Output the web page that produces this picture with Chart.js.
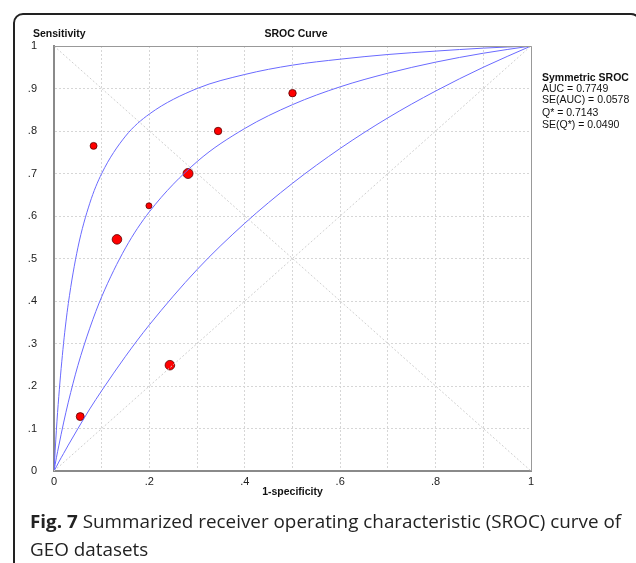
<!DOCTYPE html>
<html>
<head>
<meta charset="utf-8">
<script src="https://cdn.jsdelivr.net/npm/chart.js@4.4.1/dist/chart.umd.min.js"></script>
<style>
  html, body { margin: 0; padding: 0; background: #fff; }
  #wrap { position: relative; width: 636px; height: 563px; overflow: hidden; }
  #frame {
    position: absolute; left: 13px; top: 13px; width: 624px; height: 600px;
    border: 2px solid #222; border-radius: 10px;
  }
  #chart { position: absolute; left: 0; top: 0; }
  #caption {
    position: absolute; left: 30px; top: 507px; width: 600px; white-space: nowrap;
    font-family: "Open Sans", sans-serif; font-size: 17.5px; line-height: 28.4px; color: #222;
    transform: scaleX(1.077); transform-origin: 0 0;
  }
  #caption b { font-weight: 700; }
</style>
</head>
<body>
<div id="wrap">
  <div id="frame"></div>
  <canvas id="chart" width="636" height="563"></canvas>
  <div id="caption"><b>Fig. 7</b> Summarized receiver operating characteristic (SROC) curve of<br>GEO datasets</div>
</div>
<script>
// --- data ---
const curveFpr = [0, 0.005, 0.01, 0.02, 0.03, 0.05, 0.075, 0.1, 0.15, 0.2, 0.3, 0.4, 0.5, 0.6, 0.7, 0.8, 0.9, 1];
const upperTpr = [0, 0.096, 0.175, 0.30, 0.394, 0.525, 0.63, 0.70, 0.788, 0.84, 0.90, 0.933, 0.955, 0.969, 0.98, 0.988, 0.995, 1];
const srocTpr  = [0, 0.031, 0.059, 0.113, 0.162, 0.248, 0.336, 0.41, 0.525, 0.61, 0.728, 0.806, 0.862, 0.904, 0.936, 0.962, 0.983, 1];
const lowerTpr = [0, 0.010, 0.021, 0.041, 0.061, 0.0995, 0.146, 0.189, 0.270, 0.344, 0.474, 0.583, 0.677, 0.759, 0.831, 0.894, 0.950, 1];

const studyFpr = [0.083, 0.344, 0.500, 0.281, 0.199, 0.132, 0.243, 0.055];
const studyTpr = [0.765, 0.800, 0.889, 0.700, 0.624, 0.545, 0.249, 0.128];
const studyWeight = [12, 14, 14, 25, 9, 23, 23, 16];

const diagA = [[0, 1], [1, 0]];
const diagB = [[0, 0], [1, 1]];

const statLines = ['AUC = 0.7749', 'SE(AUC) = 0.0578', 'Q* = 0.7143', 'SE(Q*) = 0.0490'];

const toPts = (xs, ys) => xs.map((x, i) => ({ x: x, y: ys[i] }));
const pairPts = arr => arr.map(p => ({ x: p[0], y: p[1] }));

const FONT = '"Liberation Sans", Arial, sans-serif';
const tickLabel = v => {
  const k = Math.round(v * 10);
  if (k === 0) return '0';
  if (k === 10) return '1';
  return '.' + k;
};

const curveStyle = {
  type: 'line', showLine: true, borderColor: '#6a6aff', borderWidth: 1,
  pointRadius: 0, fill: false, cubicInterpolationMode: 'monotone'
};
const diagStyle = {
  type: 'line', showLine: true, borderColor: '#cfcfcf', borderWidth: 1,
  borderDash: [2, 2], pointRadius: 0, fill: false
};

// extra drawing: plot box, titles, stats text
const decor = {
  id: 'decor',
  afterDraw(chart) {
    const { ctx, chartArea: a } = chart;
    ctx.save();
    ctx.strokeStyle = '#999';
    ctx.lineWidth = 1;
    ctx.beginPath();
    ctx.moveTo(a.left, a.top + 0.5);
    ctx.lineTo(a.right + 0.5, a.top + 0.5);
    ctx.lineTo(a.right + 0.5, a.bottom);
    ctx.stroke();

    ctx.fillStyle = '#111';
    ctx.textBaseline = 'alphabetic';
    ctx.font = 'bold 10.5px ' + FONT;
    ctx.textAlign = 'left';
    ctx.fillText('Sensitivity', 33, 37);
    ctx.textAlign = 'center';
    ctx.fillText('SROC Curve', 296, 37);
    ctx.fillText('1-specificity', (a.left + a.right) / 2, 495);

    ctx.textAlign = 'left';
    ctx.fillText('Symmetric SROC', 542, 81);
    ctx.font = '10.5px ' + FONT;
    const ys = [92.3, 102.5, 116, 127.7];
    statLines.forEach((t, i) => ctx.fillText(t, 542, ys[i]));
    ctx.restore();
  }
};

new Chart(document.getElementById('chart'), {
  type: 'scatter',
  data: {
    datasets: [
      Object.assign({ data: pairPts(diagA) }, diagStyle),
      Object.assign({ data: pairPts(diagB) }, diagStyle),
      Object.assign({ data: toPts(curveFpr, upperTpr) }, curveStyle),
      Object.assign({ data: toPts(curveFpr, srocTpr) }, curveStyle),
      Object.assign({ data: toPts(curveFpr, lowerTpr) }, curveStyle),
      {
        type: 'scatter',
        data: toPts(studyFpr, studyTpr),
        backgroundColor: '#ff0000',
        borderColor: '#5a0000',
        borderWidth: 0.8,
        pointRadius: studyWeight.map(w => Math.sqrt(w)),
        pointHoverRadius: studyWeight.map(w => Math.sqrt(w))
      }
    ]
  },
  options: {
    responsive: false,
    animation: false,
    events: [],
    layout: { padding: { left: 14, top: 46, right: 105, bottom: 70 } },
    plugins: { legend: { display: false }, tooltip: { enabled: false }, title: { display: false } },
    scales: {
      x: {
        type: 'linear', min: 0, max: 1,
        afterFit: s => { s.height = 22; },
        grid: { color: '#d6d6d6', drawTicks: false },
        border: { color: '#8a8a8a', width: 2, dash: [2, 2] },
        ticks: {
          stepSize: 0.1, autoSkip: false, maxRotation: 0, padding: 4,
          color: '#222', font: { family: FONT, size: 11 },
          callback: v => (Math.round(v * 10) % 2 ? '' : tickLabel(v))
        }
      },
      y: {
        type: 'linear', min: 0, max: 1,
        afterFit: s => { s.width = 40; },
        grid: { color: '#d6d6d6', drawTicks: false },
        border: { color: '#8a8a8a', width: 2, dash: [2, 2] },
        ticks: {
          stepSize: 0.1, autoSkip: false, padding: 17,
          color: '#222', font: { family: FONT, size: 11 },
          callback: v => tickLabel(v)
        }
      }
    }
  },
  plugins: [decor]
});
</script>
</body>
</html>
